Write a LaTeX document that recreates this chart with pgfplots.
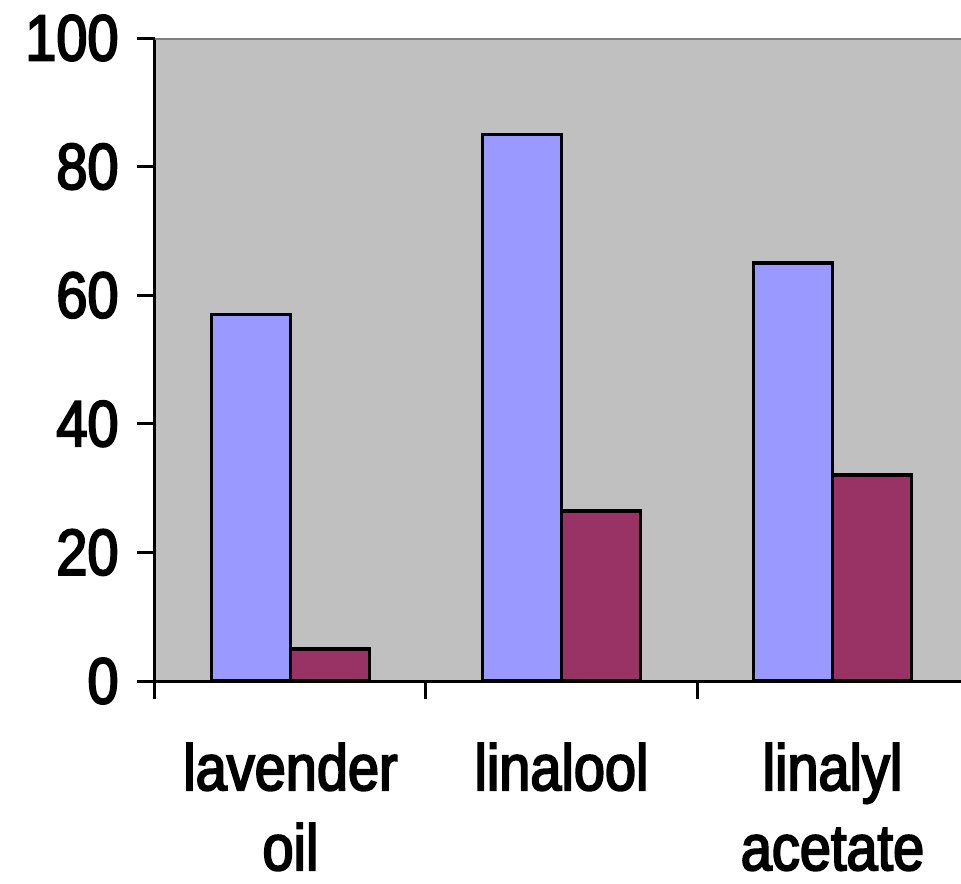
\documentclass[border=0pt]{standalone}
\usepackage{fontspec}
\setmainfont[FakeStretch=0.86, FakeBold=3]{Liberation Sans}
\usepackage{pgfplots}
\pgfplotsset{compat=1.18}
\definecolor{barblue}{HTML}{9999FF}
\definecolor{barplum}{HTML}{993366}
\definecolor{plotgray}{HTML}{C0C0C0}
\definecolor{framegray}{HTML}{808080}
\begin{document}
\begin{tikzpicture}
  % 1px of the reference = 0.3pt
  \path[use as bounding box] (-46.5pt,-60.6pt) rectangle (241.8pt,204.3pt);
  \begin{axis}[
    at={(0,0)}, anchor=south west,
    scale only axis,
    width=243.9pt, height=192.9pt,
    xmin=-0.5, xmax=2.5,
    ymin=0, ymax=100,
    axis x line*=bottom,
    axis y line*=left,
    axis line style={black, line width=0.9pt},
    axis background/.style={fill=plotgray},
    xtick={-0.5,0.5,1.5,2.5},
    x tick label as interval,
    xticklabels={lavender\\oil, linalool, linalyl\\acetate},
    ytick={0,20,40,60,80,100},
    tick align=outside,
    major tick length=5.4pt,
    tick style={black, line width=0.9pt},
    /pgf/number format/assume math mode=true,
    tick label style={font=\fontsize{19.5pt}{24pt}\selectfont},
    xticklabel style={align=center, yshift=-12pt, inner sep=1pt},
    yticklabel style={xshift=-2pt},
    ybar=0pt,
    bar width=23.7pt,
  ]
  \addplot[fill=barblue, draw=black, line width=1.1pt] coordinates {
    (0,57) (1,85) (2,65)
  };
  \addplot[fill=barplum, draw=black, line width=1.1pt] coordinates {
    (0,5) (1,26.4) (2,32)
  };
  \draw[framegray, line width=1.2pt] (rel axis cs:0,1) -- (rel axis cs:1,1);
  \end{axis}
\end{tikzpicture}
\end{document}
